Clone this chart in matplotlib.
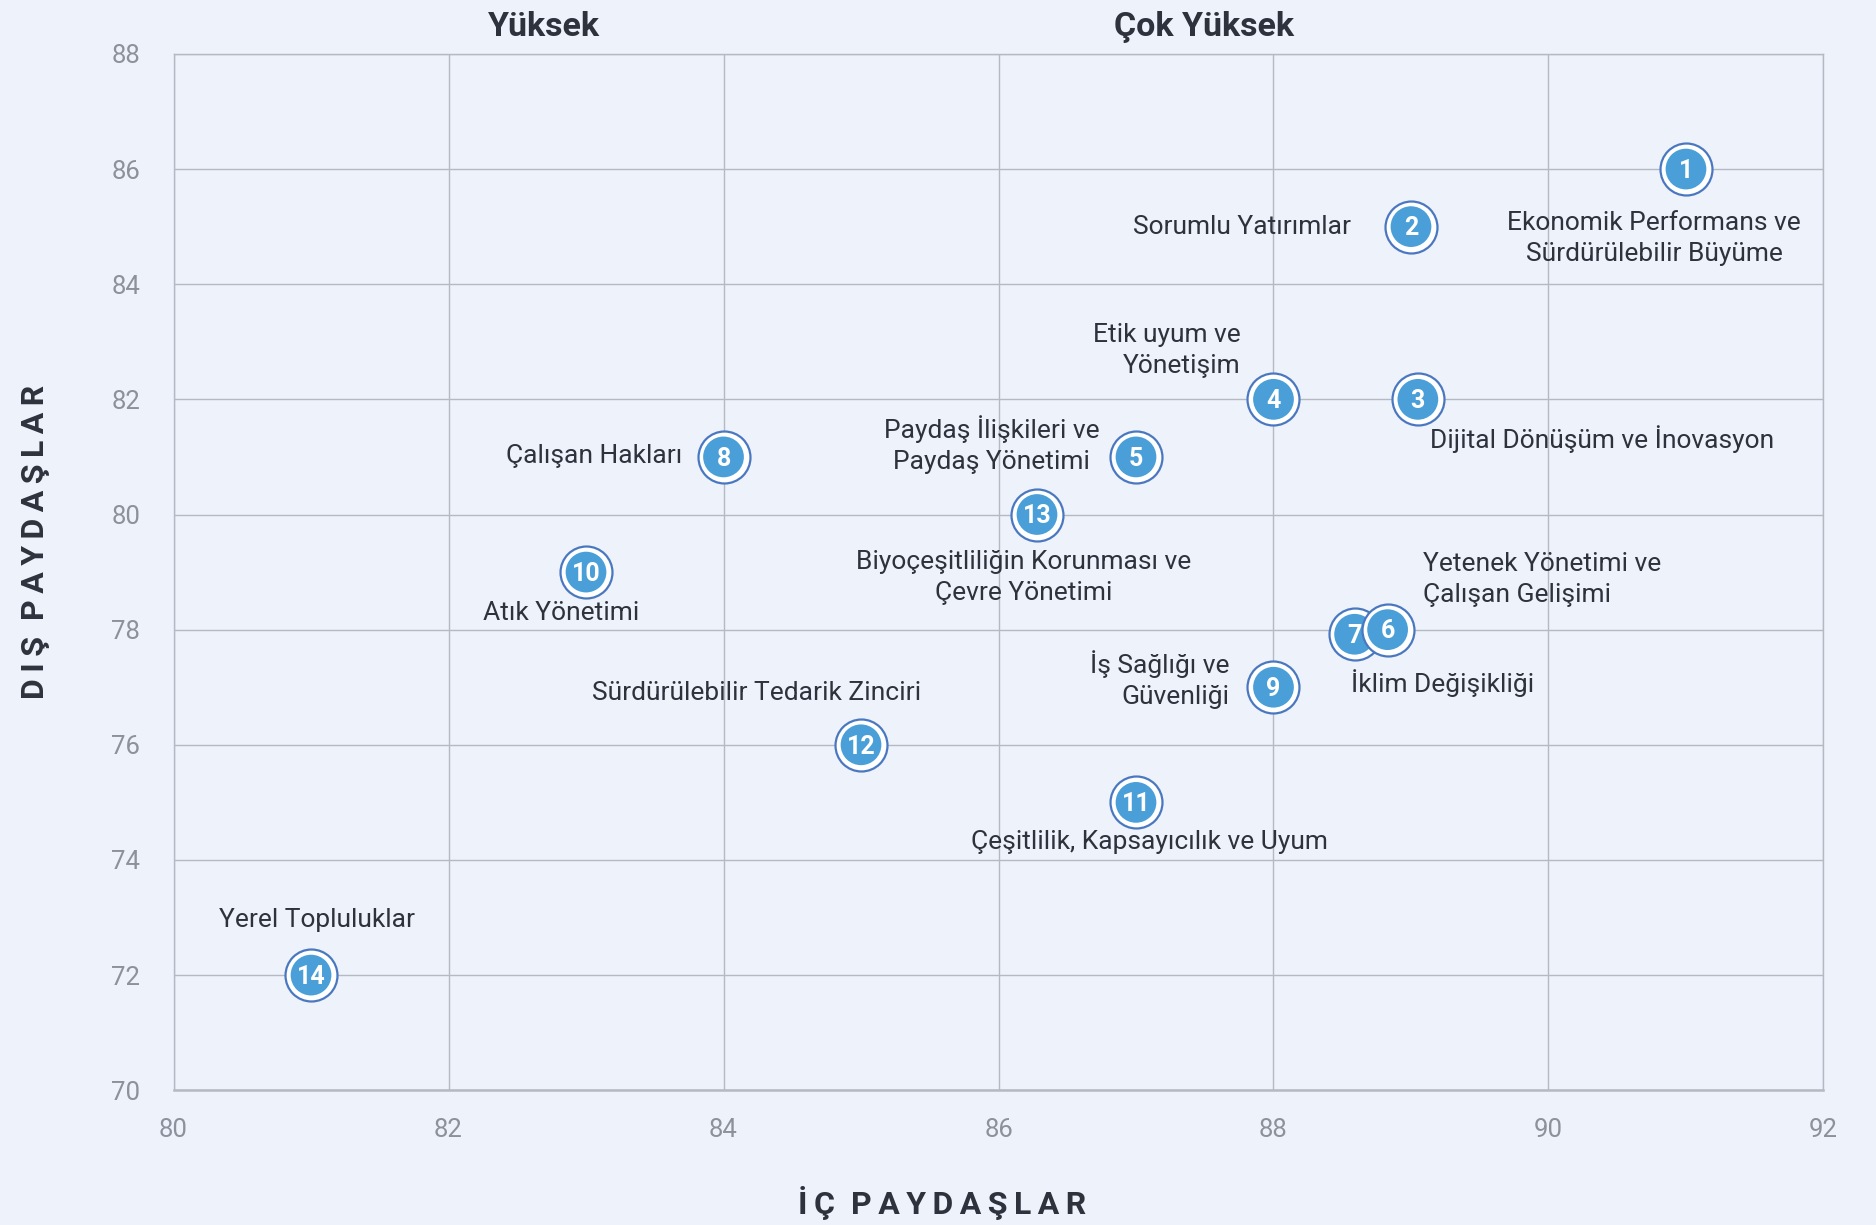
import matplotlib.pyplot as plt

plt.rcParams['font.family'] = ['Roboto', 'DejaVu Sans']

# values
ids = [1, 2, 3, 4, 5, 6, 7, 8, 9, 10, 11, 12, 13, 14]
ic_paydaslar = [91.0, 89.0, 89.05, 88.0, 87.0, 88.83, 88.59, 84.0, 88.0, 83.0, 87.0, 85.0, 86.28, 81.0]
dis_paydaslar = [86.0, 85.0, 82.0, 82.0, 81.0, 78.0, 77.92, 81.0, 77.0, 79.0, 75.0, 76.0, 80.0, 72.0]
names = [
    "Ekonomik Performans ve\nSürdürülebilir Büyüme",
    "Sorumlu Yatırımlar",
    "Dijital Dönüşüm ve İnovasyon",
    "Etik uyum ve\nYönetişim",
    "Paydaş İlişkileri ve\nPaydaş Yönetimi",
    "Yetenek Yönetimi ve\nÇalışan Gelişimi",
    "İklim Değişikliği",
    "Çalışan Hakları",
    "İş Sağlığı ve\nGüvenliği",
    "Atık Yönetimi",
    "Çeşitlilik, Kapsayıcılık ve Uyum",
    "Sürdürülebilir Tedarik Zinciri",
    "Biyoçeşitliliğin Korunması ve\nÇevre Yönetimi",
    "Yerel Topluluklar",
]

# label placement (data coords) and alignment
label_pos = [(90.77, 84.80), (88.565, 84.99), (89.14, 81.31), (87.76, 82.85),
             (85.95, 81.22), (89.09, 78.875), (89.23, 77.07), (83.70, 81.02),
             (87.68, 77.13), (82.82, 78.29), (87.10, 74.32), (84.24, 76.90),
             (86.18, 78.90), (81.04, 72.95)]
label_ha = ['center', 'right', 'left', 'right', 'center', 'left', 'center',
            'right', 'right', 'center', 'center', 'center', 'center', 'center']
# drawing order: 6 sits on top of 7
draw_order = [7, 14, 13, 12, 11, 10, 9, 8, 6, 5, 4, 3, 2, 1]

bg = '#eef2fa'
dark = '#2d323c'
grid_c = '#b4b9c3'
tick_c = '#8c919b'
fill_c = '#4a9fd8'
ring_c = '#4a78c0'

fig = plt.figure(figsize=(18.76, 12.25), dpi=100, facecolor=bg)
ax = fig.add_axes([0.0925, 0.110, 0.8795, 0.846])
ax.set_facecolor(bg)

ax.set_xlim(80, 92)
ax.set_ylim(70, 88)
ax.set_xticks(range(80, 93, 2))
ax.set_yticks(range(70, 89, 2))
ax.grid(True, color=grid_c, linewidth=1.0)
ax.set_axisbelow(True)
for s in ax.spines.values():
    s.set_color(grid_c)
    s.set_linewidth(1.0)
ax.spines['bottom'].set_linewidth(1.8)
ax.tick_params(length=0, labelsize=18.5, labelcolor=tick_c)
ax.tick_params(axis='x', pad=20)
ax.tick_params(axis='y', pad=24)

# markers: outer ring, then filled disc, then number
for k, i in enumerate(draw_order):
    x, y = ic_paydaslar[i - 1], dis_paydaslar[i - 1]
    z = 3 + k * 0.1
    ax.scatter([x], [y], s=1400, facecolor='white', edgecolor=ring_c, linewidth=1.6, zorder=z)
    ax.scatter([x], [y], s=860, facecolor=fill_c, edgecolor='none', zorder=z + 0.03)
    ax.text(x, y - 0.03, str(i), color='white', fontsize=18, fontweight='bold',
            ha='center', va='center', zorder=z + 0.06)

for (lx, ly), name, ha in zip(label_pos, names, label_ha):
    ax.text(lx, ly, name, fontsize=19, color=dark, ha=ha, va='center',
            linespacing=1.37, multialignment=ha)

fig.text(0.290, 0.978, "Yüksek", fontsize=24.5, fontweight='bold', color=dark,
         ha='center', va='center')
fig.text(0.642, 0.978, "Çok Yüksek", fontsize=24.5, fontweight='bold', color=dark,
         ha='center', va='center')

sp = '\u2009'
fig.text(0.502, 0.018, sp.join("İÇ") + '  ' + sp.join("PAYDAŞLAR"), fontsize=23,
         fontweight='bold', color=dark, ha='center', va='center')
fig.text(0.0187, 0.558, sp.join("DIŞ") + '  ' + sp.join("PAYDAŞLAR"), fontsize=23,
         fontweight='bold', color=dark, ha='center', va='center', rotation=90)

fig.savefig('out.png', dpi=100, facecolor=bg)
